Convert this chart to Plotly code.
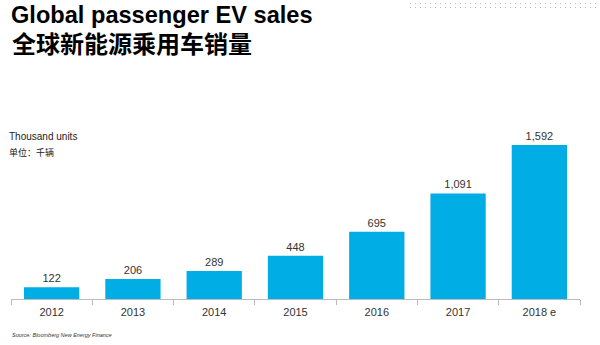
import plotly.graph_objects as go

years = ["2012", "2013", "2014", "2015", "2016", "2017", "2018 e"]
sales = [122, 206, 289, 448, 695, 1091, 1592]
labels = [f"{v:,}" for v in sales]

W, H = 600, 345
L, R, T, B = 11, 20, 130, 46
plot_h = H - T - B
plot_w = W - L - R
ymax = 1592 * plot_h / 154.0

def px(x):
    return (x - L) / plot_w

def py(y):
    return (H - B - y) / plot_h

fig = go.Figure(go.Bar(
    x=years, y=sales, text=labels, textposition="outside",
    textfont=dict(family="Liberation Sans, Arial", size=11, color="#333333"),
    marker=dict(color="#00ADE4", line=dict(width=0)),
    cliponaxis=False,
))

fig.update_layout(
    width=W, height=H, margin=dict(l=L, r=R, t=T, b=B),
    paper_bgcolor="white", plot_bgcolor="white",
    bargap=0.32, showlegend=False,
    font=dict(family="Liberation Sans, Arial", color="#333333"),
)
fig.update_xaxes(
    type="category", showline=True, linecolor="#BBBBBB", linewidth=1,
    ticks="outside", tickson="boundaries", ticklen=5, tickcolor="#BBBBBB",
    ticklabelstandoff=3,
    tickfont=dict(family="Liberation Sans, Arial", size=11, color="#333333"),
    showgrid=False, zeroline=False,
)
fig.update_yaxes(range=[0, ymax], visible=False, showgrid=False)

ann = [
    dict(text="<b>Global passenger EV sales</b>", x=px(9), y=py(15), xanchor="left", yanchor="middle",
         font=dict(family="Liberation Sans, Arial", size=23.6, color="#000000")),
    dict(text="<b>全球新能源乘用车销量</b>", x=px(10), y=py(42.5), xanchor="left", yanchor="middle",
         font=dict(family="Noto Sans CJK SC", size=24, color="#000000")),
    dict(text="Thousand units", x=px(7), y=py(136), xanchor="left", yanchor="middle",
         font=dict(family="Liberation Sans, Arial", size=10, color="#222222")),
    dict(text="单位：千辆", x=px(7), y=py(152), xanchor="left", yanchor="middle",
         font=dict(family="Noto Sans CJK SC", size=9, color="#222222")),
    dict(text="<i>Source: Bloomberg New Energy Finance</i>", x=px(10), y=py(334.5), xanchor="left", yanchor="middle",
         font=dict(family="Liberation Sans, Arial", size=5.5, color="#333333")),
]
for a in ann:
    a.update(xref="paper", yref="paper", showarrow=False)
fig.update_layout(annotations=ann)

shapes = []
for yy in (3.5, 7.5):
    shapes.append(dict(type="line", xref="paper", yref="paper",
                       x0=px(410), x1=px(600), y0=py(yy), y1=py(yy),
                       line=dict(color="#BBBBBB", width=1, dash="1px,4px")))
fig.update_layout(shapes=shapes)

fig.write_html("out.html")
